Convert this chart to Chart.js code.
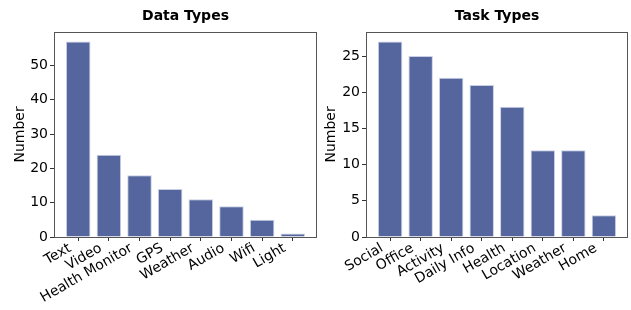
<!DOCTYPE html>
<html>
<head>
<meta charset="utf-8">
<script src="https://cdn.jsdelivr.net/npm/chart.js@4/dist/chart.umd.min.js"></script>
<style>
  html, body { margin: 0; padding: 0; background: #fff; }
  #wrap { position: relative; width: 631px; height: 310px; }
  #c1 { position: absolute; left: 0; top: 0; }
  #c2 { position: absolute; left: 322px; top: 0; }
</style>
</head>
<body>
<div id="wrap">
  <canvas id="c1" width="322" height="310"></canvas>
  <canvas id="c2" width="309" height="310"></canvas>
</div>
<script>
// ---- data ----
const dataTypeLabels = ["Text", "Video", "Health Monitor", "GPS", "Weather", "Audio", "Wifi", "Light"];
const dataTypeCounts = [57, 24, 18, 14, 11, 9, 5, 1];
const dataTypeYTicks = [0, 10, 20, 30, 40, 50];

const taskTypeLabels = ["Social", "Office", "Activity", "Daily Info", "Health", "Location", "Weather", "Home"];
const taskTypeCounts = [27, 25, 22, 21, 18, 12, 12, 3];
const taskTypeYTicks = [0, 5, 10, 15, 20, 25];

const FONT = "'DejaVu Sans', sans-serif";
const BAR_COLOR = "#55669f";
const BAR_EDGE = "#c9cfe4";

const framePlugin = {
  id: 'frame',
  afterDraw(chart) {
    const a = chart.chartArea, ctx = chart.ctx;
    ctx.save();
    ctx.strokeStyle = '#555';
    ctx.lineWidth = 1;
    ctx.strokeRect(Math.round(a.left) + 0.5, Math.round(a.top) + 0.5,
                   Math.round(a.right - a.left) - 1, Math.round(a.bottom - a.top));
    ctx.restore();
  }
};

function makeChart(id, title, labels, values, yTicks, opts) {
  const n = labels.length;
  const ymax = Math.max(...values) * 1.05;
  const xpad = (n - 1 + 0.8) * 0.05 + 0.4;
  return new Chart(document.getElementById(id), {
    type: 'bar',
    data: {
      datasets: [{
        data: values.map((v, i) => ({ x: i, y: v })),
        backgroundColor: BAR_COLOR,
        borderColor: BAR_EDGE,
        borderWidth: 1,
        barPercentage: 0.8,
        categoryPercentage: 1.0
      }]
    },
    options: {
      responsive: false,
      animation: false,
      devicePixelRatio: 1,
      layout: { padding: { top: 1, right: opts.padRight, left: 0, bottom: 0 } },
      plugins: {
        legend: { display: false },
        tooltip: { enabled: false },
        title: {
          display: true, text: title, fullSize: false,
          color: '#000',
          font: { family: FONT, size: 14, weight: 'bold', lineHeight: 1.2 },
          padding: { top: 7, bottom: 7 }
        }
      },
      scales: {
        x: {
          type: 'linear',
          min: -xpad, max: n - 1 + xpad,
          offset: false,
          afterBuildTicks(scale) { scale.ticks = labels.map((_, i) => ({ value: i })); },
          afterFit(scale) { scale.height = 73; },
          grid: { offset: false, drawOnChartArea: false, drawTicks: true, tickLength: 4, color: '#333', tickWidth: 1 },
          border: { display: false },
          ticks: {
            autoSkip: false, minRotation: 30, maxRotation: 30,
            padding: -1,
            labelOffset: -8,
            color: '#000',
            font: { family: FONT, size: 14 },
            callback: (v) => labels[v]
          }
        },
        y: {
          min: 0, max: ymax,
          afterBuildTicks(scale) { scale.ticks = yTicks.map(v => ({ value: v })); },
          afterFit(scale) { scale.width = opts.yWidth; },
          grid: { drawOnChartArea: false, drawTicks: true, tickLength: 4, color: '#333', tickWidth: 1 },
          border: { display: false },
          ticks: {
            padding: 2, color: '#000',
            font: { family: FONT, size: 14 }
          },
          title: {
            display: true, text: 'Number', color: '#000',
            font: { family: FONT, size: 14, lineHeight: 1.2 },
            padding: { top: opts.titlePad, bottom: 0 }
          }
        }
      }
    },
    plugins: [framePlugin]
  });
}

makeChart('c1', 'Data Types', dataTypeLabels, dataTypeCounts, dataTypeYTicks,
  { padRight: 5, yWidth: 54, titlePad: 12 });
makeChart('c2', 'Task Types', taskTypeLabels, taskTypeCounts, taskTypeYTicks,
  { padRight: 3, yWidth: 44, titlePad: 1 });
</script>
</body>
</html>
